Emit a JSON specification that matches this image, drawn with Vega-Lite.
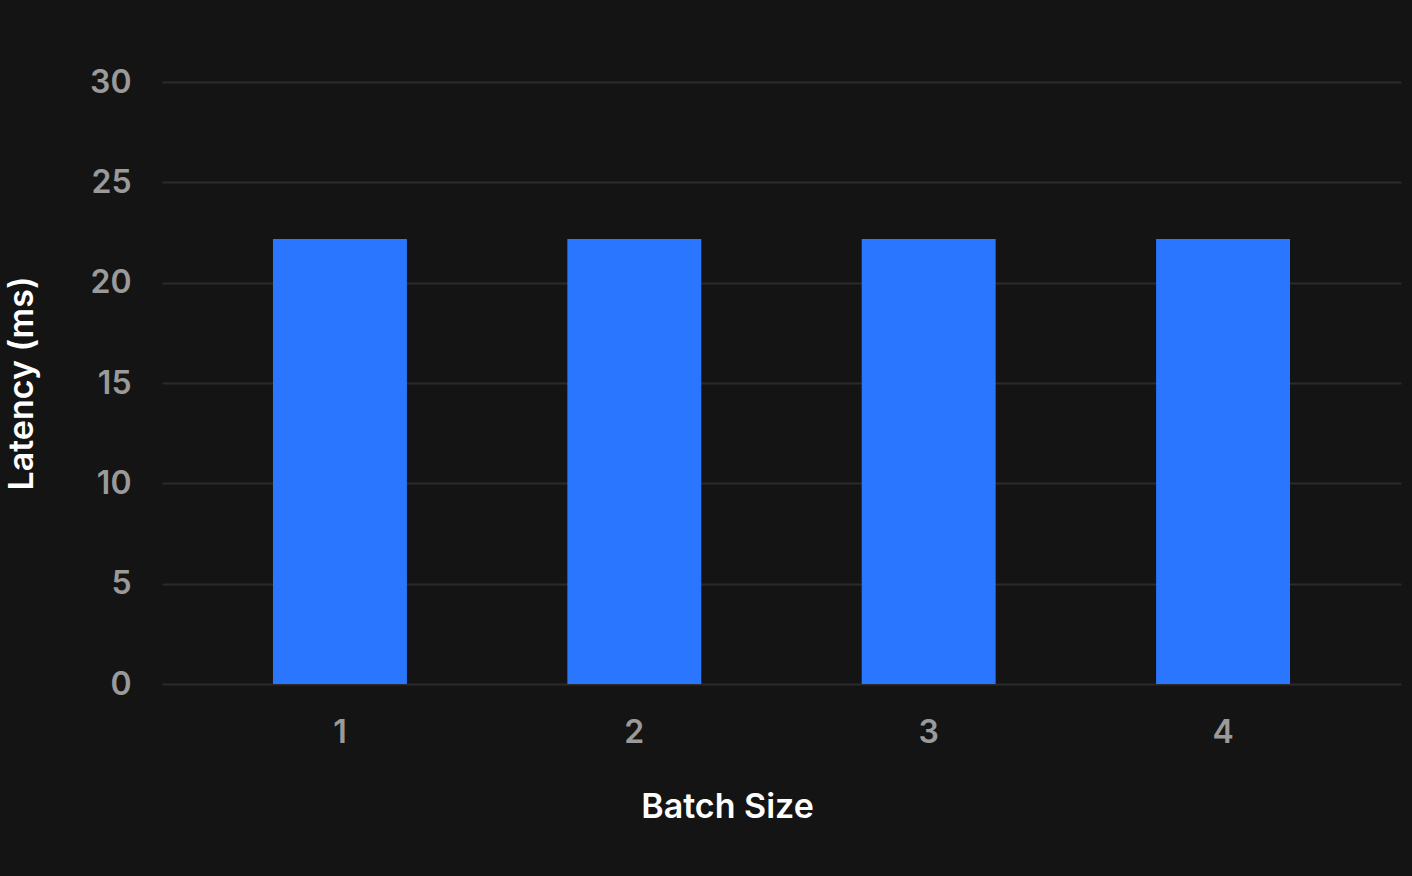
{
  "$schema": "https://vega.github.io/schema/vega-lite/v6.json",
  "autosize": {"type": "none"},
  "padding": {"left": 162, "top": 82, "right": 11, "bottom": 192},
  "width": 1239,
  "height": 602,
  "background": "#141414",
  "data": {"values": [
    {"batch": "1", "latency": 22.17},
    {"batch": "2", "latency": 22.17},
    {"batch": "3", "latency": 22.17},
    {"batch": "4", "latency": 22.17}
  ]},
  "mark": {"type": "bar", "color": "#2a76ff"},
  "encoding": {
    "x": {
      "field": "batch", "type": "ordinal", "title": "Batch Size",
      "scale": {"paddingInner": 0.545, "paddingOuter": 0.377},
      "axis": {"labelAngle": 0, "domain": false, "ticks": false, "grid": false,
        "labelPadding": 33, "labelFontSize": 32, "labelColor": "#9a9a9a", "labelFont": "Inter", "labelFontWeight": 600,
        "titleFont": "Inter", "titleFontSize": 34, "titleFontWeight": 600, "titleColor": "#ffffff", "titlePadding": 42,
        "titleX": 565, "titleAnchor": "middle", "titleAlign": "center"}
    },
    "y": {
      "field": "latency", "type": "quantitative", "title": "Latency (ms)",
      "scale": {"domain": [0, 30]},
      "axis": {"values": [0, 5, 10, 15, 20, 25, 30], "domain": false, "ticks": false,
        "grid": true, "gridColor": "#2b2b2b", "gridWidth": 2,
        "labelPadding": 31, "labelFontSize": 32, "labelColor": "#9a9a9a", "labelFont": "Inter", "labelFontWeight": 600,
        "titleFont": "Inter", "titleFontSize": 34, "titleFontWeight": 600, "titleColor": "#ffffff", "titlePadding": 50}
    }
  },
  "config": {"view": {"stroke": null}}
}
